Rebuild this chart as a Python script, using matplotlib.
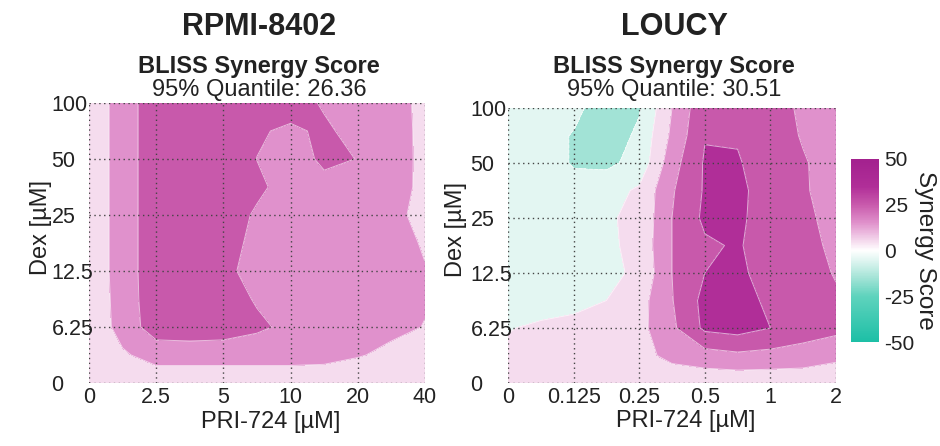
import numpy as np
import matplotlib
matplotlib.use("Agg")
import matplotlib.pyplot as plt
from matplotlib.colors import LinearSegmentedColormap, Normalize
import matplotlib.cm as cm

plt.rcParams['font.family'] = ['Liberation Sans', 'DejaVu Sans']
plt.rcParams['axes.unicode_minus'] = False

# tick labels
dex_labels = ["0", "6.25", "12.5", "25", "50", "100"]
pri_rpmi_labels = ["0", "2.5", "5", "10", "20", "40"]
pri_loucy_labels = ["0", "0.125", "0.25", "0.5", "1", "2"]

# synergy scores, half-step grid
# rows: Dex from 0 (bottom) to 100 (top); columns: PRI-724 from 0 to max
rpmi_scores = [
    [3, 4, 5, 5, 5, 5, 5, 5, 5, 5, 5],
    [4, 9, 13, 13, 13, 13, 13, 12.5, 10.5, 8.5, 7],
    [4, 13, 26, 27, 26, 22, 17.5, 16, 15, 11.5, 9.8],
    [4, 13.5, 27, 28, 25, 19, 16, 16, 15, 14, 10.5],
    [4, 14, 27, 28, 22, 17, 16, 16, 15, 14, 10.5],
    [4, 14, 27, 28, 23, 18, 16, 16, 15, 14, 9],
    [4, 14, 27, 28, 24, 19, 17, 16, 15, 12.6, 7],
    [4, 14, 27, 28, 26, 21.5, 17, 17, 16, 13.5, 8],
    [4, 14, 27, 28, 26, 19.9, 15, 22, 19.8, 13.7, 8],
    [4, 14, 27, 28, 27, 21, 18.5, 21.5, 17, 13.5, 8],
    [4, 14, 27, 28, 27, 25, 24, 19, 15, 13, 8],
]

loucy_scores = [
    [2, 2, 3, 3, 4, 4, 3, 3, 3, 4, 4],
    [2, 3, 4, 5, 7, 12.5, 16, 18, 17, 15, 12],
    [-0.5, 1.5, 3, 4, 7, 18, 32, 34, 30, 26, 23],
    [-4, -4, -3, 0, 6, 19.5, 33, 34, 28, 24, 21],
    [-4, -5, -5, -2, 1.5, 20, 30, 32, 26, 23, 19.5],
    [-4, -5, -6, -2, 3, 20, 28.5, 31, 25, 23, 18],
    [-4, -5, -6, -1, 2, 20, 32, 32, 25, 22, 17],
    [-4, -6, -8, -4, 1.5, 19, 31, 32, 26, 21, 16],
    [-4, -7, -10.5, -12, -7, 16, 31, 30.5, 27, 21, 15],
    [-4, -7, -10.5, -16, -8, 12, 29.5, 29.5, 26, 19, 15],
    [-4, -6, -8, -14, -11, 10, 28, 28, 25, 18, 14],
]

titles = ["RPMI-8402", "LOUCY"]
quantiles = ["26.36", "30.51"]

levels = [-50, -40, -30, -20, -10, 0, 10, 20, 30, 40, 50]
cmap = LinearSegmentedColormap.from_list("syn", [
    (0.00, "#1dbfa6"),
    (0.25, "#5fd3bd"),
    (0.35, "#a3e3d6"),
    (0.45, "#e2f6f2"),
    (0.50, "#ffffff"),
    (0.55, "#f5dbee"),
    (0.65, "#e092cc"),
    (0.75, "#c95aac"),
    (0.85, "#b02e98"),
    (1.00, "#a3218e"),
])
norm = Normalize(-50, 50)

fig = plt.figure(figsize=(9.4, 4.46), dpi=100)
W, H = 940, 446


def px_axes(x0, y0, x1, y1):
    return fig.add_axes([x0 / W, 1 - y1 / H, (x1 - x0) / W, (y1 - y0) / H])


ax1 = px_axes(89, 103, 425, 383)
ax2 = px_axes(508, 108, 836, 383)

panels = [(ax1, rpmi_scores, pri_rpmi_labels, 89, 425, 37),
          (ax2, loucy_scores, pri_loucy_labels, 508, 836, 41)]

for k, (ax, scores, xlabels, xl, xr, ylab_edge) in enumerate(panels):
    z = np.array(scores, dtype=float)
    n = z.shape[0]
    gx = np.linspace(0, 5, n)
    gy = np.linspace(0, 5, n)
    ax.contourf(gx, gy, z, levels=levels, cmap=cmap, norm=norm)
    ax.contour(gx, gy, z, levels=levels, colors="white", linewidths=0.7, alpha=0.6)
    ax.set_xlim(0, 5)
    ax.set_ylim(0, 5)
    ax.set_xticks(range(6))
    ax.set_xticklabels(xlabels, fontsize=15.5, color="#222222")
    ax.set_yticks(range(6))
    ax.set_yticklabels(dex_labels, fontsize=15.5, ha="left", color="#222222")
    ax.tick_params(length=0, pad=3)
    ax.tick_params(axis="y", pad=27)
    for s in ax.spines.values():
        s.set_visible(False)
    ax.grid(True, color="#444444", linestyle=(0, (1, 2.5)), linewidth=1.0)
    ax.set_axisbelow(False)
    ax.set_xlabel("PRI-724 [µM]", fontsize=17, color="#222222")
    ax.set_ylabel("Dex [µM]", fontsize=17, color="#222222")
    ax.xaxis.set_label_coords(0.5 + 14 / (xr - xl), -0.1)
    ax.yaxis.set_label_coords(-(ylab_edge) / (xr - xl), 0.557)
    cx = (xl + xr) / 2 / W + 2 / W
    fig.text(cx, 1 - 27 / H, titles[k], ha="center", va="center",
             fontsize=22, fontweight="bold", color="#222222")
    fig.text(cx, 1 - 67 / H, "BLISS Synergy Score", ha="center", va="center",
             fontsize=17, fontweight="bold", color="#222222")
    fig.text(cx, 1 - 90 / H, "95% Quantile: " + quantiles[k], ha="center",
             va="center", fontsize=17, color="#222222")

cax = px_axes(851, 159, 879, 342)
cb = fig.colorbar(cm.ScalarMappable(norm=norm, cmap=cmap), cax=cax)
cb.set_ticks([50, 25, 0, -25, -50])
cb.ax.tick_params(length=0, labelsize=15, pad=4, labelcolor="#222222")
cb.outline.set_visible(False)
cb.set_label("Synergy Score", rotation=270, fontsize=17.5, color="#222222",
             va="center", ha="center")
cb.ax.yaxis.set_label_coords((925 - 851) / 28, 0.5)

fig.savefig("out.png", dpi=100)
